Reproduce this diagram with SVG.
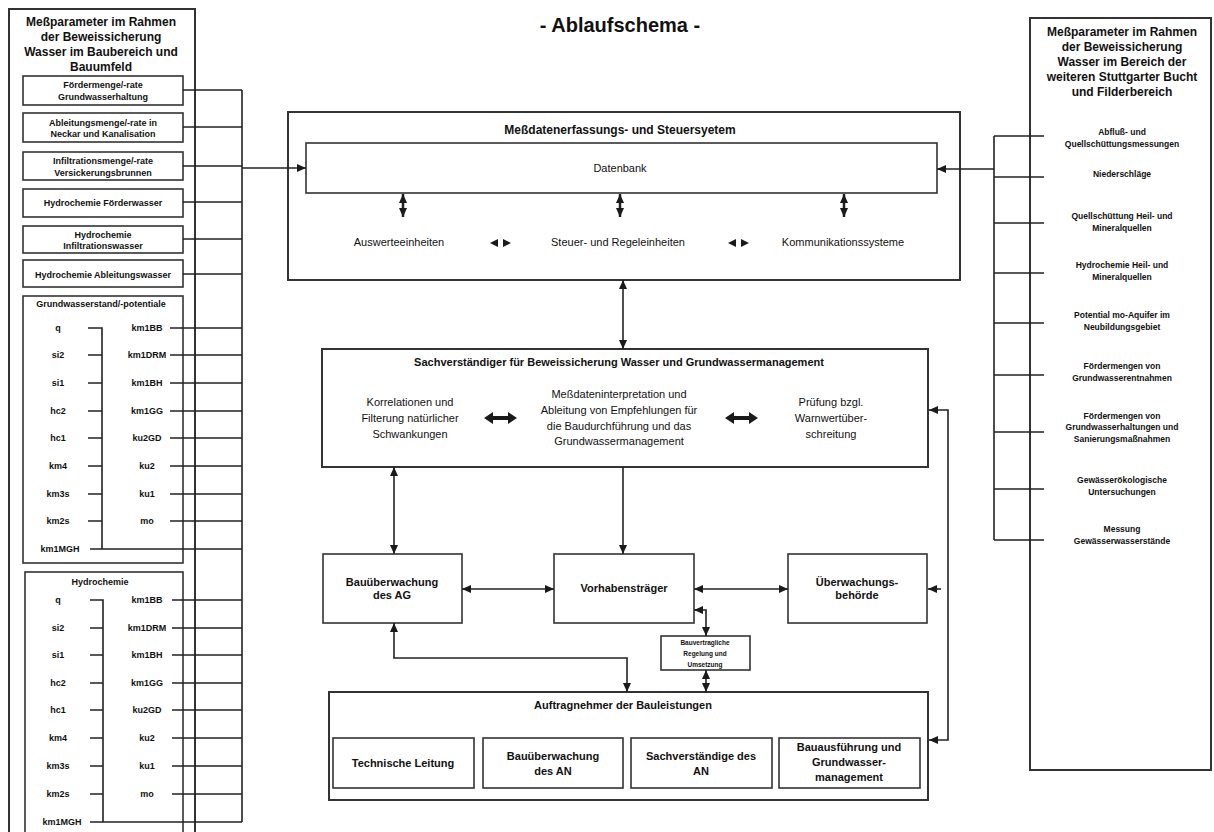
<svg xmlns="http://www.w3.org/2000/svg" width="1214" height="832" viewBox="0 0 1214 832">
<defs>
<marker id="ah" markerUnits="userSpaceOnUse" markerWidth="9" markerHeight="8" refX="9" refY="4" orient="auto-start-reverse"><path d="M0,0L9,4L0,8z" fill="#1a1a1a"/></marker>
</defs>
<style>
.bx{fill:#fff;stroke:#333;stroke-width:2}
.ib{fill:#fff;stroke:#333;stroke-width:1.6}
.ln{fill:none;stroke:#222;stroke-width:1.6}
.ar{fill:none;stroke:#222;stroke-width:1.6;marker-end:url(#ah)}
.ab{fill:none;stroke:#222;stroke-width:1.6;marker-start:url(#ah);marker-end:url(#ah)}
.tri{fill:#1a1a1a}
text{font-family:"Liberation Sans",Arial,sans-serif;fill:#111;text-anchor:middle}
.h{font-size:12px;font-weight:bold}
.s{font-size:9px;font-weight:bold}
.r{font-size:8.5px;font-weight:bold}
.m{font-size:11px}
.mb{font-size:11px;font-weight:bold}
.tiny{font-size:6.5px;font-weight:bold}
</style>
<rect width="1214" height="832" fill="#fff"/>

<text x="620" y="32" style="font-size:20px;font-weight:bold">- Ablaufschema -</text>

<g id="left-panel">
<rect class="bx" x="9" y="9" width="186" height="830"/>
<text class="h" x="101" y="26">Meßparameter im Rahmen</text>
<text class="h" x="101" y="41">der Beweissicherung</text>
<text class="h" x="101" y="56">Wasser im Baubereich und</text>
<text class="h" x="101" y="71">Bauumfeld</text>
</g>
<g id="l-foerdermenge"><rect class="ib" x="23" y="76" width="160" height="29"/><text class="s" x="103" y="88">Fördermenge/-rate</text><text class="s" x="103" y="100">Grundwasserhaltung</text></g>
<g id="l-ableitungsmenge"><rect class="ib" x="23" y="113" width="160" height="29"/><text class="s" x="103" y="126">Ableitungsmenge/-rate in</text><text class="s" x="103" y="137">Neckar und Kanalisation</text></g>
<g id="l-infiltrationsmenge"><rect class="ib" x="23" y="152" width="160" height="28"/><text class="s" x="103" y="164">Infiltrationsmenge/-rate</text><text class="s" x="103" y="176">Versickerungsbrunnen</text></g>
<g id="l-hc-foerder"><rect class="ib" x="23" y="189" width="160" height="28"/><text class="s" x="103" y="206">Hydrochemie Förderwasser</text></g>
<g id="l-hc-infiltration"><rect class="ib" x="23" y="226" width="160" height="27"/><text class="s" x="103" y="238">Hydrochemie</text><text class="s" x="103" y="249">Infiltrationswasser</text></g>
<g id="l-hc-ableitung"><rect class="ib" x="23" y="260" width="160" height="27"/><text class="s" x="103" y="278">Hydrochemie Ableitungswasser</text></g>

<g id="l-grundwasser">
<rect class="ib" x="23" y="296" width="160" height="267"/>
<text class="s" x="101" y="307">Grundwasserstand/-potentiale</text>
<g class="s">
<text x="58" y="331">q</text><text x="58" y="358">si2</text><text x="58" y="386">si1</text><text x="58" y="414">hc2</text><text x="58" y="441">hc1</text><text x="58" y="469">km4</text><text x="58" y="497">km3s</text><text x="58" y="524">km2s</text><text x="60" y="552">km1MGH</text>
<text x="147" y="331">km1BB</text><text x="147" y="358">km1DRM</text><text x="147" y="386">km1BH</text><text x="147" y="414">km1GG</text><text x="147" y="441">ku2GD</text><text x="147" y="469">ku2</text><text x="147" y="497">ku1</text><text x="147" y="524">mo</text>
</g>
</g>

<g id="l-hydrochemie">
<rect class="ib" x="25" y="572" width="158" height="262"/>
<text class="s" x="100" y="585">Hydrochemie</text>
<g class="s">
<text x="58" y="603">q</text><text x="58" y="631">si2</text><text x="58" y="658">si1</text><text x="58" y="686">hc2</text><text x="58" y="713">hc1</text><text x="58" y="741">km4</text><text x="58" y="769">km3s</text><text x="58" y="797">km2s</text><text x="62" y="825">km1MGH</text>
<text x="147" y="603">km1BB</text><text x="147" y="631">km1DRM</text><text x="147" y="658">km1BH</text><text x="147" y="686">km1GG</text><text x="147" y="713">ku2GD</text><text x="147" y="741">ku2</text><text x="147" y="769">ku1</text><text x="147" y="797">mo</text>
</g>
</g>

<g id="meszdaten">
<rect class="bx" x="288" y="112" width="672" height="168"/>
<text class="h" x="620" y="134">Meßdatenerfassungs- und Steuersyetem</text>
<rect class="ib" x="306" y="143" width="631" height="50"/>
<text class="m" x="620" y="172">Datenbank</text>
<text class="m" x="399" y="246">Auswerteeinheiten</text>
<text class="m" x="618" y="246">Steuer- und Regeleinheiten</text>
<text class="m" x="843" y="246">Kommunikationssysteme</text>
<polygon class="tri" points="490,243 498,239 498,247"/><polygon class="tri" points="511,243 503,239 503,247"/>
<polygon class="tri" points="728,243 736,239 736,247"/><polygon class="tri" points="749,243 741,239 741,247"/>
</g>

<g id="sachverstaendiger">
<rect class="bx" x="322" y="349" width="606" height="118"/>
<text class="mb" x="619" y="366">Sachverständiger für Beweissicherung Wasser und Grundwassermanagement</text>
<text class="m" x="410" y="406">Korrelationen und</text>
<text class="m" x="410" y="422">Filterung natürlicher</text>
<text class="m" x="410" y="438">Schwankungen</text>
<text class="m" x="619" y="398">Meßdateninterpretation und</text>
<text class="m" x="619" y="414">Ableitung von Empfehlungen für</text>
<text class="m" x="619" y="430">die Baudurchführung und das</text>
<text class="m" x="619" y="445">Grundwassermanagement</text>
<text class="m" x="831" y="406">Prüfung bzgl.</text>
<text class="m" x="831" y="422">Warnwertüber-</text>
<text class="m" x="831" y="438">schreitung</text>
<polygon class="tri" points="484,418 493,412 493,416 508,416 508,412 517,418 508,424 508,420 493,420 493,424"/>
<polygon class="tri" points="725,418 734,412 734,416 749,416 749,412 758,418 749,424 749,420 734,420 734,424"/>
</g>

<g id="bauueberwachung-ag"><rect class="ib" x="323" y="554" width="139" height="69"/><text class="mb" x="392" y="586">Bauüberwachung</text><text class="mb" x="392" y="599">des AG</text></g>
<g id="vorhabentraeger"><rect class="ib" x="554" y="554" width="140" height="69"/><text class="mb" x="624" y="592">Vorhabensträger</text></g>
<g id="ueberwachungsbehoerde"><rect class="ib" x="788" y="554" width="139" height="69"/><text class="mb" x="857" y="586">Überwachungs-</text><text class="mb" x="857" y="599">behörde</text></g>
<g id="bauvertrag"><rect class="ib" x="661" y="636" width="89" height="34"/><text class="tiny" x="705" y="645">Bauvertragliche</text><text class="tiny" x="705" y="656">Regelung und</text><text class="tiny" x="705" y="667">Umsetzung</text></g>

<g id="auftragnehmer">
<rect class="bx" x="329" y="692" width="599" height="108"/>
<text class="mb" x="623" y="709">Auftragnehmer der Bauleistungen</text>
<rect class="ib" x="333" y="738" width="141" height="50"/><text class="mb" x="403" y="767">Technische Leitung</text>
<rect class="ib" x="483" y="738" width="140" height="50"/><text class="mb" x="553" y="760">Bauüberwachung</text><text class="mb" x="553" y="775">des AN</text>
<rect class="ib" x="631" y="738" width="141" height="50"/><text class="mb" x="701" y="760">Sachverständige des</text><text class="mb" x="701" y="775">AN</text>
<rect class="ib" x="779" y="738" width="141" height="50"/><text class="mb" x="849" y="751">Bauausführung und</text><text class="mb" x="849" y="766">Grundwasser-</text><text class="mb" x="849" y="781">management</text>
</g>

<g id="right-panel">
<rect class="bx" x="1030" y="18" width="181" height="752"/>
<text class="h" x="1122" y="36">Meßparameter im Rahmen</text>
<text class="h" x="1122" y="51">der Beweissicherung</text>
<text class="h" x="1122" y="66">Wasser im Bereich der</text>
<text class="h" x="1122" y="81">weiteren Stuttgarter Bucht</text>
<text class="h" x="1122" y="96">und Filderbereich</text>
<g class="r">
<text x="1122" y="135">Abfluß- und</text><text x="1122" y="147">Quellschüttungsmessungen</text>
<text x="1122" y="177">Niederschläge</text>
<text x="1122" y="219">Quellschüttung Heil- und</text><text x="1122" y="231">Mineralquellen</text>
<text x="1122" y="268">Hydrochemie Heil- und</text><text x="1122" y="280">Mineralquellen</text>
<text x="1122" y="318">Potential mo-Aquifer im</text><text x="1122" y="330">Neubildungsgebiet</text>
<text x="1122" y="369">Fördermengen von</text><text x="1122" y="381">Grundwasserentnahmen</text>
<text x="1122" y="419">Fördermengen von</text><text x="1122" y="430">Grundwasserhaltungen und</text><text x="1122" y="442">Sanierungsmaßnahmen</text>
<text x="1122" y="483">Gewässerökologische</text><text x="1122" y="495">Untersuchungen</text>
<text x="1122" y="532">Messung</text><text x="1122" y="544">Gewässerwasserstände</text>
</g>
</g>

<g id="connectors">
<!-- left bus -->
<path class="ln" d="M242,90V822"/>
<path class="ln" d="M183,90H242M183,127H242M183,166H242M183,202H242M183,239H242M183,274H242"/>
<path class="ln" d="M88,328H102V549M88,355H102M88,383H102M88,411H102M88,438H102M88,466H102M88,494H102M88,521H102M90,549H242"/>
<path class="ln" d="M170,328H242M170,355H242M170,383H242M170,411H242M170,438H242M170,466H242M170,494H242M170,521H242"/>
<path class="ln" d="M90,600H103V822M90,628H103M90,655H103M90,683H103M90,710H103M90,738H103M90,766H103M90,794H103M90,822H242"/>
<path class="ln" d="M172,600H242M172,628H242M172,655H242M172,683H242M172,710H242M172,738H242M172,766H242M172,794H242"/>
<line class="ar" x1="242" y1="168" x2="306" y2="168"/>
<!-- right bus -->
<path class="ln" d="M994,136V540"/>
<path class="ln" d="M994,136H1044M994,177H1044M994,223H1044M994,273H1044M994,323H1044M994,375H1044M994,432H1044M994,489H1044M994,540H1044"/>
<line class="ar" x1="994" y1="169" x2="937" y2="169"/>
<!-- Datenbank to units -->
<line class="ab" x1="403" y1="194" x2="403" y2="217" style="stroke-width:2.5"/>
<line class="ab" x1="620" y1="194" x2="620" y2="217" style="stroke-width:2.5"/>
<line class="ab" x1="844" y1="194" x2="844" y2="217" style="stroke-width:2.5"/>
<!-- vertical links -->
<line class="ab" x1="623" y1="280" x2="623" y2="349"/>
<line class="ar" x1="623" y1="467" x2="623" y2="554"/>
<line class="ab" x1="394" y1="467" x2="394" y2="554"/>
<line class="ab" x1="462" y1="589" x2="554" y2="589"/>
<line class="ab" x1="694" y1="589" x2="788" y2="589"/>
<path class="ab" d="M394,623V658H627V692"/>
<path class="ab" d="M694,610H706V636"/>
<line class="ab" x1="706" y1="670" x2="706" y2="692"/>
<path class="ab" d="M929,410H948V740H929"/>
<line class="ar" x1="941" y1="589" x2="928" y2="589"/>
</g>
</svg>
